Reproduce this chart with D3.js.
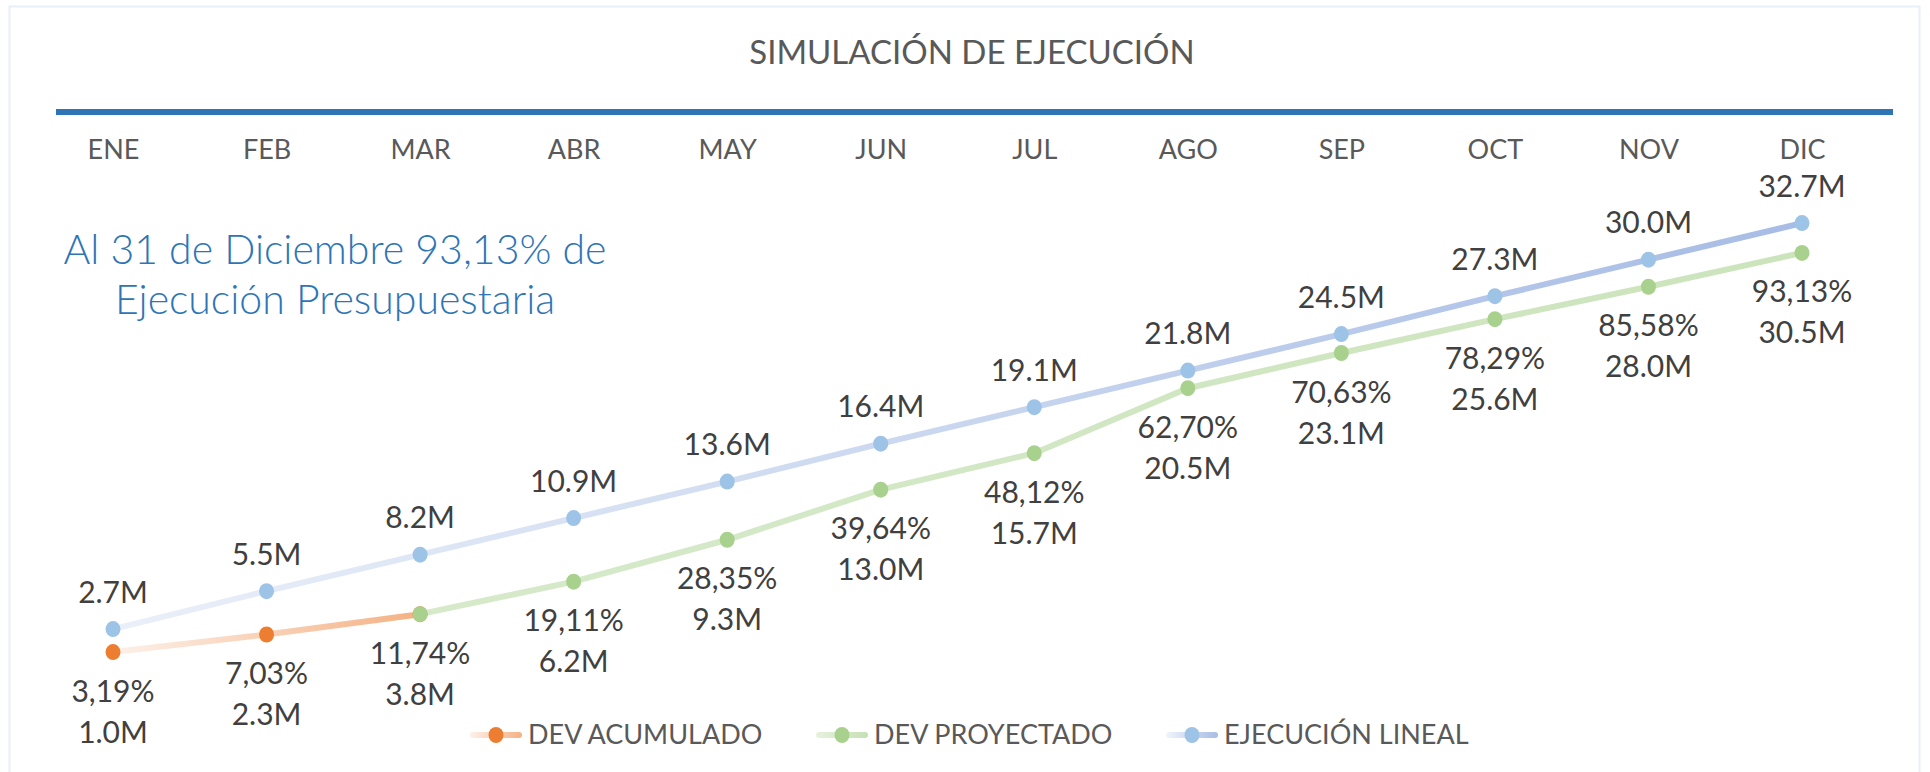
<!DOCTYPE html>
<html>
<head>
<meta charset="utf-8">
<script src="https://cdn.jsdelivr.net/npm/d3@7"></script>
<style>
  body { margin: 0; background: #fff; }
  svg { display: block; }
  text { font-family: Lato, "Open Sans", sans-serif; }
</style>
</head>
<body>
<div id="chart"></div>
<script>
// data
let months = ["ENE", "FEB", "MAR", "ABR", "MAY", "JUN", "JUL", "AGO", "SEP", "OCT", "NOV", "DIC"];
let ejecucionLineal = [2.7, 5.5, 8.2, 10.9, 13.6, 16.4, 19.1, 21.8, 24.5, 27.3, 30.0, 32.7];
let devAcumulado = [1.0, 2.3, 3.8, null, null, null, null, null, null, null, null, null];
let devAcumuladoPct = ["3,19%", "7,03%", "11,74%", null, null, null, null, null, null, null, null, null];
let devProyectado = [null, null, 3.8, 6.2, 9.3, 13.0, 15.7, 20.5, 23.1, 25.6, 28.0, 30.5];
let devProyectadoPct = [null, null, "11,74%", "19,11%", "28,35%", "39,64%", "48,12%", "62,70%", "70,63%", "78,29%", "85,58%", "93,13%"];
let seriesNames = ["DEV ACUMULADO", "DEV PROYECTADO", "EJECUCIÓN LINEAL"];

let width = 1930, height = 772;

let svg = d3.select("#chart")
  .append("svg")
    .attr("width", width)
    .attr("height", height);

// faint frame
svg.append("rect")
  .attr("x", 9.5).attr("y", 6.5)
  .attr("width", 1910).attr("height", 800)
  .attr("fill", "none")
  .attr("stroke", "#e7eff9")
  .attr("stroke-width", 2);

// scales
let x = d3.scalePoint()
  .domain(months)
  .range([113, 1802]);

let y = d3.scaleLinear()
  .domain([0, 35])
  .range([665.6, 192]);

// gradients for the fading lines
let defs = svg.append("defs");
function addGradient(id, x1, x2, c1, c2, units) {
  let g = defs.append("linearGradient")
    .attr("id", id)
    .attr("gradientUnits", units || "userSpaceOnUse")
    .attr("x1", x1).attr("x2", x2)
    .attr("y1", 0).attr("y2", 0);
  g.append("stop").attr("offset", "0%").attr("stop-color", c1);
  g.append("stop").attr("offset", "100%").attr("stop-color", c2);
}
addGradient("gBlue", x("ENE"), x("DIC"), "#eaf0f9", "#a7bce5");
addGradient("gOrange", x("ENE"), x("MAR"), "#fdf1ea", "#f4b183");
addGradient("gGreen", x("MAR"), x("DIC"), "#d6eaca", "#cce4bc");
addGradient("lBlue", 0, 1, "#f0f4fb", "#a7bce5", "objectBoundingBox");
addGradient("lOrange", 0, 1, "#fdf1ea", "#f4b183", "objectBoundingBox");
addGradient("lGreen", 0, 1, "#e6f1de", "#c5e0b4", "objectBoundingBox");

// title
svg.append("text")
  .attr("x", 972).attr("y", 52)
  .attr("dy", "0.35em")
  .attr("text-anchor", "middle")
  .attr("font-size", 33)
  .attr("fill", "#595959")
  .text("SIMULACIÓN DE EJECUCIÓN");

// blue rule under the title
svg.append("rect")
  .attr("x", 56).attr("y", 109)
  .attr("width", 1837).attr("height", 6)
  .attr("fill", "#2e75b6");

// month labels (top axis)
let xAxis = svg.append("g")
  .attr("transform", "translate(0,150)")
  .call(d3.axisTop(x).tickSize(0).tickPadding(0));
xAxis.select(".domain").remove();
xAxis.selectAll("text")
  .attr("dy", "0.35em")
  .attr("font-size", 27)
  .attr("fill", "#595959")
  .style("font-family", "Lato, 'Open Sans', sans-serif");

// note
let note = svg.append("text")
  .attr("text-anchor", "middle")
  .attr("font-size", 41)
  .attr("font-weight", 300)
  .attr("fill", "#2e75b6");
note.append("tspan").attr("x", 335).attr("y", 250).attr("dy", "0.35em").text("Al 31 de Diciembre 93,13% de");
note.append("tspan").attr("x", 335).attr("y", 300).attr("dy", "0.35em").text("Ejecución Presupuestaria");

// lines
let line = d3.line()
  .defined(function(d) { return d != null; })
  .x(function(d, i) { return x(months[i]); })
  .y(function(d) { return y(d); });

let series = [
  {name: seriesNames[0], values: devAcumulado, stroke: "url(#gOrange)", dot: "#ed7d31"},
  {name: seriesNames[1], values: devProyectado, stroke: "url(#gGreen)", dot: "#a9d18e"},
  {name: seriesNames[2], values: ejecucionLineal, stroke: "url(#gBlue)", dot: "#9dc3e6"}
];

series.forEach(function(s) {
  svg.append("path")
    .datum(s.values)
    .attr("fill", "none")
    .attr("stroke", s.stroke)
    .attr("stroke-width", 6)
    .attr("stroke-linecap", "round")
    .attr("d", line);
});

series.forEach(function(s) {
  svg.append("g")
    .selectAll("ellipse")
    .data(s.values.map(function(v, i) { return {v: v, m: months[i]}; }).filter(function(d) { return d.v != null; }))
    .enter().append("ellipse")
      .attr("cx", function(d) { return x(d.m); })
      .attr("cy", function(d) { return y(d.v); })
      .attr("rx", 7.5).attr("ry", 8)
      .attr("fill", s.dot);
});

// labels
let labelSize = 30, labelColor = "#404040";

svg.append("g")
  .selectAll("text")
  .data(ejecucionLineal)
  .enter().append("text")
    .attr("x", function(d, i) { return x(months[i]); })
    .attr("y", function(d) { return y(d) - 37; })
    .attr("dy", "0.35em")
    .attr("text-anchor", "middle")
    .attr("font-size", labelSize)
    .attr("fill", labelColor)
    .text(function(d) { return d.toFixed(1) + "M"; });

function addLowerLabels(values, pcts, skip) {
  let items = values.map(function(v, i) { return {v: v, p: pcts[i], m: months[i]}; })
    .filter(function(d, i) { return d.v != null && !skip(i); });
  let g = svg.append("g");
  g.selectAll("text.pct")
    .data(items)
    .enter().append("text")
      .attr("class", "pct")
      .attr("x", function(d) { return x(d.m); })
      .attr("y", function(d) { return y(d.v) + 39; })
      .attr("dy", "0.35em")
      .attr("text-anchor", "middle")
      .attr("font-size", labelSize)
      .attr("fill", labelColor)
      .text(function(d) { return d.p; });
  g.selectAll("text.val")
    .data(items)
    .enter().append("text")
      .attr("class", "val")
      .attr("x", function(d) { return x(d.m); })
      .attr("y", function(d) { return y(d.v) + 80; })
      .attr("dy", "0.35em")
      .attr("text-anchor", "middle")
      .attr("font-size", labelSize)
      .attr("fill", labelColor)
      .text(function(d) { return d.v.toFixed(1) + "M"; });
}
addLowerLabels(devAcumulado, devAcumuladoPct, function(i) { return devProyectado[i] != null; });
addLowerLabels(devProyectado, devProyectadoPct, function(i) { return false; });

// legend
let legendItems = [
  {name: seriesNames[0], x: 470, fill: "url(#lOrange)", dot: "#ed7d31"},
  {name: seriesNames[1], x: 816, fill: "url(#lGreen)", dot: "#a9d18e"},
  {name: seriesNames[2], x: 1166, fill: "url(#lBlue)", dot: "#9dc3e6"}
];
let legend = svg.append("g").attr("transform", "translate(0,735)");
let li = legend.selectAll("g")
  .data(legendItems)
  .enter().append("g")
    .attr("transform", function(d) { return "translate(" + d.x + ",0)"; });
li.append("rect")
  .attr("x", 0).attr("y", -3)
  .attr("width", 52).attr("height", 6)
  .attr("rx", 3)
  .attr("fill", function(d) { return d.fill; });
li.append("ellipse")
  .attr("cx", 26).attr("cy", 0)
  .attr("rx", 7.5).attr("ry", 8)
  .attr("fill", function(d) { return d.dot; });
li.append("text")
  .attr("x", 58).attr("y", 0)
  .attr("dy", "0.35em")
  .attr("font-size", 27)
  .attr("fill", "#595959")
  .text(function(d) { return d.name; });
</script>
</body>
</html>
